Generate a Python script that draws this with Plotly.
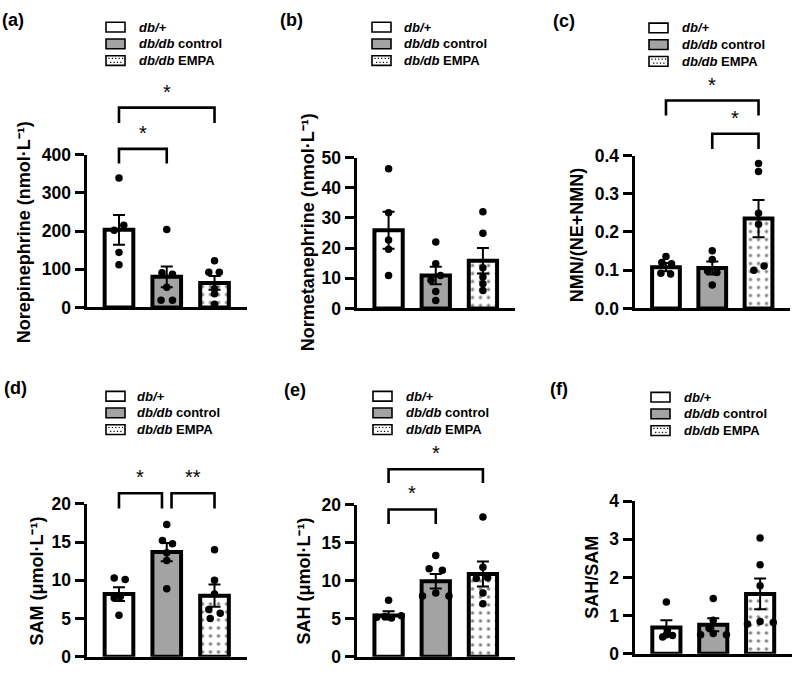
import plotly.graph_objects as go

# ---------------- data ----------------
legend_names = ["<i>db/+</i>", "<i>db/db</i> control", "<i>db/db</i> EMPA"]

# (a) Norepinephrine (nmol/L)
ne_mean = [203, 80, 64]
ne_sem = [39, 27, 18]
ne_pts = [[339, 215, 202, 144, 112], [204, 91, 87, 53, 19, 19], [122, 92, 92, 49, 36, 8]]
ne_ticks = [0, 100, 200, 300, 400]

# (b) Normetanephrine (nmol/L)
nmn_mean = [25.9, 10.9, 15.8]
nmn_sem = [6.1, 2.9, 4.2]
nmn_pts = [[46.3, 31.7, 22.7, 19.6, 10.9], [22.0, 14.8, 10.9, 9.3, 5.6, 2.6], [32.0, 24.9, 13.5, 10.4, 8.2, 5.9]]
nmn_ticks = [0, 10, 20, 30, 40, 50]

# (c) NMN/(NE+NMN)
ratio_mean = [0.108, 0.106, 0.235]
ratio_sem = [0.011, 0.017, 0.049]
ratio_pts = [[0.136, 0.120, 0.117, 0.092, 0.090], [0.151, 0.128, 0.098, 0.094, 0.061],
             [0.379, 0.358, 0.249, 0.220, 0.111, 0.100]]
ratio_ticks = [0.0, 0.1, 0.2, 0.3, 0.4]

# (d) SAM (umol/L)
sam_mean = [8.2, 13.7, 8.0]
sam_sem = [0.9, 1.2, 1.45]
sam_pts = [[10.3, 10.1, 7.9, 7.7, 5.45], [17.3, 15.2, 14.8, 13.6, 12.6, 8.9], [14.0, 10.0, 8.2, 6.2, 5.7, 5.0]]
sam_ticks = [0, 5, 10, 15, 20]

# (e) SAH (umol/L)
sah_mean = [5.45, 9.95, 10.9]
sah_sem = [0.55, 0.95, 1.65]
sah_pts = [[7.45, 5.2, 5.3, 5.1, 5.4], [13.35, 11.6, 11.4, 8.4, 8.0, 8.0], [18.4, 11.8, 10.3, 10.4, 8.4, 7.0]]
sah_ticks = [0, 5, 10, 15, 20]

# (f) SAH/SAM
ss_mean = [0.69, 0.76, 1.57]
ss_sem = [0.19, 0.17, 0.40]
ss_pts = [[1.36, 0.62, 0.48, 0.44, 0.50], [1.45, 0.88, 0.68, 0.53, 0.50, 0.50], [3.03, 2.33, 1.78, 0.85, 0.78, 0.82]]
ss_ticks = [0, 1, 2, 3, 4]

# significance brackets: (group_from, group_to, bar level, leg end, label)
ne_sig = [(0, 2, 523, 483, "*"), (0, 1, 415, 377, "*")]
ratio_sig = [(0, 2, 0.544, 0.505, "*"), (1, 2, 0.457, 0.417, "*")]
sam_sig = [(0, 0.9, 21.4, 19.4, "*"), (1.1, 2, 21.4, 19.4, "**")]
sah_sig = [(0, 2, 24.7, 22.9, "*"), (0, 1, 19.4, 17.5, "*")]

# ---------------- layout / style ----------------
W, H = 794, 676
X0, X1 = -0.68, 2.68
FONT = "Liberation Sans, Arial, sans-serif"
GRAY = "#a3a3a3"

# horizontal jitter of individual points (style only)
ne_jit = [[0, 0.1, -0.1, 0, 0], [0, -0.1, 0.12, 0, -0.12, 0.12], [0, -0.12, 0.1, 0, 0, 0]]
nmn_jit = [[0, 0, 0, 0, 0], [0, 0, 0.1, -0.1, 0, 0], [0, 0, 0, 0, 0, 0]]
ratio_jit = [[0, -0.09, 0.12, -0.11, 0.1], [0, 0, -0.1, 0.1, 0], [0, 0, 0, 0, 0.12, -0.1]]
sam_jit = [[-0.1, 0.13, 0.03, -0.1, 0], [0, -0.09, 0.12, 0, 0, 0], [0, 0, 0, -0.12, 0.12, -0.09]]
sah_jit = [[0, -0.25, -0.08, 0.06, 0.27], [0, -0.14, 0.14, 0, -0.28, 0.28], [0, 0, -0.14, 0.1, 0, 0]]
ss_jit = [[0, 0.02, 0.13, -0.08, 0], [0, 0, -0.09, 0, -0.27, 0.28], [0, 0, 0, 0, -0.27, 0.28]]

panels = [
    dict(lab="(a)", labxy=(0, 10), mean=ne_mean, sem=ne_sem, pts=ne_pts, jit=ne_jit, ticks=ne_ticks, fmt="",
         xpx=(86.5, 247), ypx=(149, 306.5), title="Norepinephrine (nmol·L⁻¹)", txy=(24, 229),
         leg=(106, 137, 17.7), sig=ne_sig),
    dict(lab="(b)", labxy=(278, 10), mean=nmn_mean, sem=nmn_sem, pts=nmn_pts, jit=nmn_jit, ticks=nmn_ticks, fmt="",
         xpx=(356.5, 515), ypx=(152, 307.5), title="Normetanephrine (nmol·L⁻¹)", txy=(308, 229),
         leg=(372, 402, 17.7), sig=[]),
    dict(lab="(c)", labxy=(551, 11), mean=ratio_mean, sem=ratio_sem, pts=ratio_pts, jit=ratio_jit, ticks=ratio_ticks,
         fmt=".1f", xpx=(634.5, 790), ypx=(150, 307.5), title="NMN/(NE+NMN)", txy=(577, 232),
         leg=(649, 680, 18.5), sig=ratio_sig),
    dict(lab="(d)", labxy=(2, 390), mean=sam_mean, sem=sam_sem, pts=sam_pts, jit=sam_jit, ticks=sam_ticks, fmt="",
         xpx=(86.5, 247), ypx=(509, 666.5), title="SAM (μmol·L⁻¹)", txy=(37, 589),
         leg=(106, 135, 398), sig=sam_sig),
    dict(lab="(e)", labxy=(282, 392), mean=sah_mean, sem=sah_sem, pts=sah_pts, jit=sah_jit, ticks=sah_ticks, fmt="",
         xpx=(356.5, 515), ypx=(510, 666.5), title="SAH (μmol·L⁻¹)", txy=(304, 589),
         leg=(373, 404, 398), sig=sah_sig),
    dict(lab="(f)", labxy=(548, 391), mean=ss_mean, sem=ss_sem, pts=ss_pts, jit=ss_jit, ticks=ss_ticks, fmt="",
         xpx=(634.5, 792), ypx=(506, 663.5), title="SAH/SAM", txy=(592, 585),
         leg=(651, 682, 399), sig=[]),
]

fill_colors = ["white", GRAY, "white"]
LEG_BOX_W, LEG_BOX_H, LEG_STEP = 19, 10, 17.2

fig = go.Figure()
annotations = []
shapes = []
layout_extra = {}


def xd(v):
    return (v - X0) / (X1 - X0)


def pxx(v):
    return v / W


def pxy(v):
    return 1 - v / H


for k, p in enumerate(panels):
    n = "" if k == 0 else str(k + 1)
    xa, ya = "x" + n, "y" + n
    ymax = p["ticks"][-1]
    for g in range(3):
        marker = dict(color=fill_colors[g], line=dict(color="black", width=4))
        if g == 2:
            marker["pattern"] = dict(shape=".", fgcolor="black", bgcolor="white", size=8, solidity=0.14)
        fig.add_trace(go.Bar(
            x=[g], y=[p["mean"][g]], width=0.6, marker=marker, name=legend_names[g],
            error_y=dict(type="data", array=[p["sem"][g]], color="black", thickness=2, width=6),
            xaxis=xa, yaxis=ya, showlegend=False, hoverinfo="skip"))
    for g in range(3):
        fig.add_trace(go.Scatter(
            x=[g + j for j in p["jit"][g]], y=p["pts"][g], mode="markers",
            marker=dict(color="black", size=7.5), showlegend=False, xaxis=xa, yaxis=ya,
            cliponaxis=False, hoverinfo="skip"))

    x0p, x1p = p["xpx"]
    ytp, ybp = p["ypx"]
    dom0, dom1 = 1 - ybp / H, 1 - ytp / H
    layout_extra["xaxis" + n] = dict(
        domain=[x0p / W, x1p / W], range=[X0, X1], anchor=ya, showline=True, linecolor="black",
        linewidth=3, showticklabels=False, ticks="", showgrid=False, zeroline=False, fixedrange=True)
    layout_extra["yaxis" + n] = dict(
        domain=[dom0, dom1], range=[0, ymax], anchor=xa, showline=True, linecolor="black",
        linewidth=3, ticks="outside", ticklen=9, tickwidth=3, tickcolor="black", tickvals=p["ticks"],
        tickformat=p["fmt"], tickfont=dict(size=17.5, family=FONT, color="black", weight="bold"),
        showgrid=False, zeroline=False, fixedrange=True)

    # legend (drawn by hand: boxes + labels)
    bx, tx, ry = p["leg"]
    for g in range(3):
        cy = ry + g * LEG_STEP
        shapes.append(dict(type="rect", xref="paper", yref="paper",
                           x0=pxx(bx), x1=pxx(bx + LEG_BOX_W), y0=pxy(cy + LEG_BOX_H / 2), y1=pxy(cy - LEG_BOX_H / 2),
                           fillcolor=fill_colors[g], line=dict(color="black", width=1.6)))
        if g == 2:
            dots = []
            for r in range(2):
                for c in range(5):
                    dx = bx + 3.0 + c * 3.4 + (1.7 if r else 0)
                    dy = cy - 2.2 + r * 4.0
                    if dx < bx + LEG_BOX_W - 2:
                        dots.append("M {a},{b} L {c},{b} L {c},{d} L {a},{d} Z".format(
                            a=pxx(dx - 0.6), c=pxx(dx + 0.6), b=pxy(dy - 0.6), d=pxy(dy + 0.6)))
            shapes.append(dict(type="path", xref="paper", yref="paper", path=" ".join(dots),
                               fillcolor="black", line=dict(width=0)))
        annotations.append(dict(
            text="<b>" + legend_names[g] + "</b>", x=pxx(tx), y=pxy(cy), xref="paper", yref="paper",
            xanchor="left", yanchor="middle", showarrow=False,
            font=dict(size=13, family=FONT, color="black")))

    annotations.append(dict(
        text=p["lab"], x=pxx(p["labxy"][0]), y=pxy(p["labxy"][1]), xref="paper", yref="paper",
        xanchor="left", yanchor="middle", showarrow=False,
        font=dict(size=18, family=FONT, color="black", weight="bold")))
    annotations.append(dict(
        text=p["title"], x=pxx(p["txy"][0]), y=pxy(p["txy"][1]), xref="paper", yref="paper",
        xanchor="center", yanchor="middle", textangle=-90, showarrow=False,
        font=dict(size=18, family=FONT, color="black", weight="bold")))

    for (ga, gb, lvl, legend_end, txt) in p["sig"]:
        path = "M {a},{l} L {a},{h} L {b},{h} L {b},{l}".format(
            a=xd(ga), b=xd(gb), h=lvl / ymax, l=legend_end / ymax)
        shapes.append(dict(type="path", path=path, xref=xa + " domain", yref=ya + " domain",
                           line=dict(color="black", width=2.6)))
        annotations.append(dict(
            text=txt, x=(ga + gb) / 2, y=dom0 + (lvl / ymax) * (dom1 - dom0), xref=xa, yref="paper",
            xanchor="center", yanchor="bottom", yshift=3, showarrow=False,
            font=dict(size=20, family=FONT, color="black")))

fig.update_layout(**layout_extra)
fig.update_layout(
    width=W, height=H, margin=dict(l=0, r=0, t=0, b=0),
    paper_bgcolor="white", plot_bgcolor="white", barmode="overlay", showlegend=False,
    annotations=annotations, shapes=shapes,
    font=dict(family=FONT, color="black"),
)

fig.write_html("out.html")
